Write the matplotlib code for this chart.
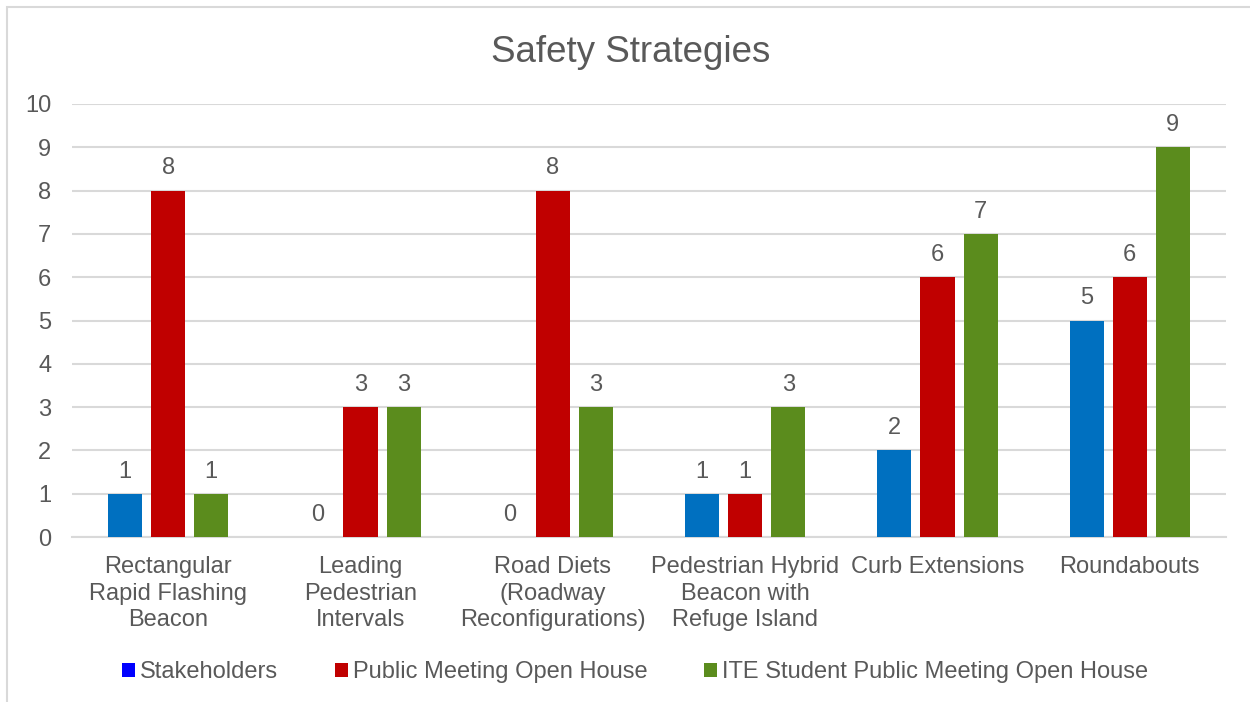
import matplotlib
matplotlib.use("Agg")
import matplotlib.pyplot as plt
import numpy as np
from matplotlib.patches import Patch, Rectangle

plt.rcParams['font.family'] = ['Liberation Sans', 'DejaVu Sans']

categories = ["Rectangular\nRapid Flashing\nBeacon", "Leading\nPedestrian\nIntervals",
              "Road Diets\n(Roadway\nReconfigurations)", "Pedestrian Hybrid\nBeacon with\nRefuge Island",
              "Curb Extensions", "Roundabouts"]
stakeholders = [1, 0, 0, 1, 2, 5]
public_meeting = [8, 3, 8, 1, 6, 6]
ite_student = [1, 3, 3, 3, 7, 9]
series_names = ["Stakeholders", "Public Meeting Open House", "ITE Student Public Meeting Open House"]

bar_colors = ["#0070C0", "#C00000", "#5B8C1D"]
legend_colors = ["#0000FF", "#C00000", "#5B8C1D"]
text_color = "#595959"
grid_color = "#D9D9D9"

fig = plt.figure(figsize=(12.5, 7.02), dpi=100)
# chart border
fig.patches.append(Rectangle((7 / 1250, -0.1), 1.2, 1 - 7 / 702 + 0.1, transform=fig.transFigure,
                             fill=False, edgecolor=grid_color, linewidth=1.5))
ax = fig.add_axes([72 / 1250, 1 - 537 / 702, (1226 - 72) / 1250, (537 - 104) / 702])

x = np.arange(len(categories))
width = 0.177
step = 0.224
for k, vals in enumerate([stakeholders, public_meeting, ite_student]):
    pos = x + (k - 1) * step
    ax.bar(pos, vals, width, color=bar_colors[k], zorder=3)
    for p, v in zip(pos, vals):
        ax.annotate(str(v), (p, v), xytext=(0, 8), textcoords="offset points",
                    ha="center", va="bottom", fontsize=17, color=text_color)

ax.set_xlim(-0.5, len(categories) - 0.5)
ax.set_ylim(0, 10)
ax.set_yticks(range(0, 11))
ax.set_xticks(x)
ax.set_xticklabels(categories, fontsize=17, color=text_color, linespacing=1.25)
ax.tick_params(axis="y", labelsize=17, labelcolor=text_color, length=0, pad=15)
ax.tick_params(axis="x", length=0, pad=14)
ax.grid(axis="y", color=grid_color, linewidth=1.5, zorder=0)
for s in ["top", "right", "left"]:
    ax.spines[s].set_visible(False)
ax.spines["bottom"].set_color(grid_color)
ax.spines["bottom"].set_linewidth(1.5)

fig.text(631 / 1250, 1 - 52 / 702, "Safety Strategies", ha="center", va="center",
         fontsize=26.5, color=text_color)

handles = [Patch(facecolor=c, edgecolor="none") for c in legend_colors]
fig.legend(handles, series_names, loc="center", bbox_to_anchor=(635 / 1250, 1 - 672 / 702),
           ncol=3, frameon=False, fontsize=17, labelcolor=text_color,
           handlelength=0.55, handleheight=0.55, handletextpad=0.2, columnspacing=2.4)

fig.savefig("out.png", dpi=100)
